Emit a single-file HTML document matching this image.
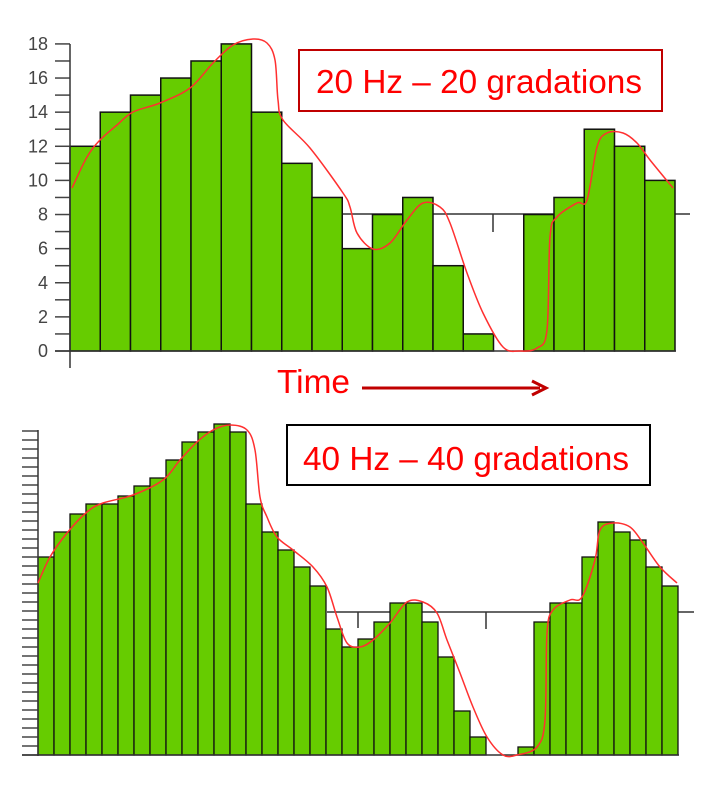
<!DOCTYPE html>
<html><head><meta charset="utf-8"><style>
html,body{margin:0;padding:0;background:#fff;width:718px;height:786px;overflow:hidden}
svg{display:block}
</style></head><body>
<svg id="s" width="718" height="786" xmlns="http://www.w3.org/2000/svg" font-family="Liberation Sans, sans-serif">
<rect width="718" height="786" fill="#fff"/>
<g id="g"></g>
<rect x="299" y="50" width="363" height="61" fill="#fff" stroke="#c00000" stroke-width="2"/>
<text x="479" y="93" font-size="33" fill="#ff0000" text-anchor="middle" textLength="326" lengthAdjust="spacingAndGlyphs">20 Hz – 20 gradations</text>
<text x="277" y="393" font-size="33" fill="#ff0000" textLength="73" lengthAdjust="spacingAndGlyphs">Time</text>
<line x1="362" y1="388" x2="540" y2="388" stroke="#c00000" stroke-width="3"/>
<polyline points="532,381 546,388 532,395" fill="none" stroke="#c00000" stroke-width="3"/>
<rect x="287" y="425" width="363" height="60" fill="#fff" stroke="#000" stroke-width="2"/>
<text x="466" y="470" font-size="33" fill="#ff0000" text-anchor="middle" textLength="326" lengthAdjust="spacingAndGlyphs">40 Hz – 40 gradations</text>
</svg>
<script>
var g=document.getElementById('g'),h='';
function cr(p){var d='M'+p[0][0]+','+p[0][1];for(var i=0;i<p.length-1;i++){var a=p[i-1]||p[i],b=p[i],c=p[i+1],e=p[i+2]||c;d+=' C'+(b[0]+(c[0]-a[0])/6)+','+(b[1]+(c[1]-a[1])/6)+' '+(c[0]-(e[0]-b[0])/6)+','+(c[1]-(e[1]-b[1])/6)+' '+c[0]+','+c[1];}return d;}
var tv=[12,14,15,16,17,18,14,11,9,6,8,9,5,1,0,8,9,13,12,10],bw=30.25,b0=351,u=17.06;
h+='<line x1="340" y1="214" x2="690" y2="214" stroke="#333" stroke-width="1.5"/><line x1="493" y1="214" x2="493" y2="232" stroke="#333" stroke-width="1.5"/>';
for(var i=0;i<20;i++){var x=70+i*bw,y=b0-tv[i]*u;h+='<rect x="'+x+'" y="'+y+'" width="'+bw+'" height="'+(b0-y)+'" fill="#66cc00" stroke="#111" stroke-width="1.5"/>';}
for(var v=0;v<=18;v++){var y=b0-v*u;h+='<line x1="55" y1="'+y+'" x2="70" y2="'+y+'" stroke="#444" stroke-width="1.5"/>';if(v%2==0)h+='<text x="48" y="'+(y+6)+'" font-size="18" fill="#444" text-anchor="end">'+v+'</text>';}
h+='<line x1="70" y1="44" x2="70" y2="368" stroke="#333" stroke-width="1.5"/><line x1="55" y1="351" x2="676" y2="351" stroke="#333" stroke-width="1.5"/>';
var tc=[[72,188],[87,157],[100,140],[117,125],[133,112],[160,103],[190,88],[213,63],[233,45],[253,39],[267,43],[275,60],[278,100],[283,120],[310,148],[343,193],[350,207],[357,233],[373,249],[390,243],[407,220],[423,203],[440,207],[450,223],[467,273],[483,313],[503,347],[520,351],[537,348],[547,330],[550,237],[557,217],[577,203],[587,200],[597,147],[607,133],[623,133],[637,143],[650,160],[673,188]];
h+='<path d="'+cr(tc)+'" fill="none" stroke="#ff3030" stroke-width="1.5"/>';
var bt=[557,532,514,504,504,496,486,478,460,442,432,424,432,504,532,550,567,586,629,647,639,622,603,603,622,657,711,737,755,755,747,622,603,603,557,522,532,540,567,586];
h+='<line x1="327" y1="612" x2="694" y2="612" stroke="#333" stroke-width="1.5"/><line x1="358" y1="612" x2="358" y2="628" stroke="#333" stroke-width="1.5"/><line x1="486" y1="612" x2="486" y2="629" stroke="#333" stroke-width="1.5"/>';
for(var i=0;i<40;i++){if(bt[i]>=755)continue;var x=38+i*16;h+='<rect x="'+x+'" y="'+bt[i]+'" width="16" height="'+(755-bt[i])+'" fill="#66cc00" stroke="#111" stroke-width="1.3"/>';}
for(var y=755;y>=430;y-=9){h+='<line x1="22" y1="'+y+'" x2="38" y2="'+y+'" stroke="#444" stroke-width="1.5"/>';}
h+='<line x1="38" y1="430" x2="38" y2="756" stroke="#333" stroke-width="1.5"/><line x1="22" y1="755" x2="679" y2="755" stroke="#333" stroke-width="1.5"/>';
var bc=[[38,583],[50,557],[67,533],[87,512],[103,503],[133,495],[163,480],[180,460],[197,442],[213,430],[230,425],[247,430],[255,450],[260,497],[267,517],[277,537],[293,550],[313,567],[327,587],[337,617],[347,643],[360,647],[373,640],[390,623],[407,602],[423,602],[437,613],[447,640],[460,673],[473,707],[487,737],[503,755],[517,755],[537,747],[545,720],[547,633],[553,610],[570,600],[582,597],[595,560],[600,530],[613,523],[630,527],[643,543],[660,567],[677,583]];
h+='<path d="'+cr(bc)+'" fill="none" stroke="#ff3030" stroke-width="1.5"/>';
g.innerHTML=h;
</script>
</body></html>
